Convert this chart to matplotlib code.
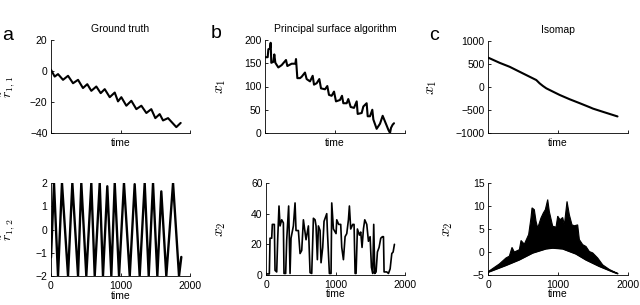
import matplotlib
matplotlib.use("Agg")
import matplotlib.pyplot as plt

plt.rcParams['font.family'] = ['Liberation Sans', 'DejaVu Sans']
plt.rcParams['mathtext.fontset'] = 'cm'

# ---- Panel a: ground truth ----
r11_t = [0, 53, 101, 173, 245, 317, 389, 460, 522, 580, 652, 715, 773, 845, 917, 964,
         1012, 1084, 1156, 1228, 1300, 1372, 1443, 1501, 1564, 1612, 1684, 1803, 1866]
r11_v = [0.8, -3.6, -2.0, -5.7, -3.1, -7.9, -5.7, -11.0, -8.5, -12.8, -10.0, -14.3, -11.7,
         -16.9, -13.9, -19.6, -16.9, -22.4, -19.2, -24.6, -22.4, -27.1, -24.6, -30.4,
         -27.8, -31.9, -30.4, -36.2, -33.5]

r12_t = [0, 43, 101, 158, 245, 307, 389, 436, 508, 580, 629, 701, 748, 810, 868, 917,
         979, 1050, 1133, 1204, 1276, 1348, 1406, 1468, 1530, 1587, 1659, 1756, 1842, 1875]
r12_v = [-1.2, 2.0, -2.0, 2.0, -2.0, 2.0, -2.0, 2.0, -2.0, 2.0, -2.0, 2.0, -2.0, 1.86,
         -2.0, 2.0, -2.0, 2.0, -2.0, 1.95, -2.0, 2.0, -2.0, 2.0, -2.0, 1.64, -2.0, 2.0,
         -2.0, -1.18]

# ---- Panel b: principal surface algorithm ----
psa_x1_t = [0, 38, 48, 71, 81, 90, 119, 133, 148, 190, 238, 300, 319, 381, 433, 443, 462,
            500, 524, 571, 595, 643, 681, 700, 738, 776, 800, 857, 890, 914, 952, 986,
            1014, 1071, 1100, 1119, 1167, 1190, 1224, 1271, 1310, 1324, 1381, 1405, 1452,
            1467, 1500, 1533, 1548, 1595, 1643, 1681, 1700, 1738, 1762, 1786, 1800, 1824, 1843]
psa_x1_v = [163, 163, 180, 182, 194, 151, 153, 169, 151, 141, 146, 157, 144, 149, 149, 159,
            118, 118, 121, 130, 116, 111, 123, 104, 107, 116, 96, 94, 101, 82, 80, 89, 68,
            71, 80, 64, 64, 73, 56, 54, 68, 41, 43, 57, 64, 36, 36, 50, 29, 9, 20, 37, 30,
            16, 7, 0, 11, 18, 21]

psa_x2_t = [0, 48, 58, 82, 91, 120, 130, 154, 168, 187, 202, 226, 250, 259, 283, 298, 326,
            346, 360, 394, 418, 432, 466, 490, 514, 538, 576, 610, 634, 658, 682, 706, 720,
            739, 754, 778, 792, 816, 835, 874, 883, 912, 936, 946, 970, 1008, 1018, 1046,
            1075, 1090, 1114, 1138, 1162, 1186, 1200, 1219, 1248, 1267, 1282, 1296, 1315,
            1344, 1363, 1382, 1402, 1421, 1450, 1474, 1498, 1517, 1536, 1550, 1565, 1584,
            1603, 1627, 1651, 1675, 1690, 1699, 1738, 1762, 1786, 1810, 1829, 1848]
psa_x2_v = [0.7, 0.7, 24, 24, 33, 33, 3, 2, 23, 45, 32, 36, 34, 1, 1, 23, 45, 1, 24, 32,
            47, 29, 29, 14, 16, 36, 23, 32, 1.5, 1, 37, 36, 32, 10, 32, 29, 8, 18, 35, 40,
            29, 1, 1, 47, 30, 27, 36, 33, 33, 18, 10, 25, 27, 36, 45, 30, 33, 33, 1, 1, 30,
            26, 28, 18, 30, 36, 33, 22, 25, 5, 1, 33, 1, 2, 15, 18, 24, 25, 25, 2, 2, 1, 4,
            14, 15, 20]

# ---- Panel c: Isomap ----
iso_x1_t = [0, 167, 310, 452, 595, 690, 738, 785, 833, 928, 1024, 1166, 1310, 1452, 1500,
            1643, 1850]
iso_x1_v = [640, 525, 439, 331, 223, 151, 79, 22, -29, -101, -173, -266, -352, -439, -470,
            -540, -640]

iso_x2_lo_t = [0, 257, 447, 639, 829, 925, 1067, 1257, 1400, 1590, 1782, 1853]
iso_x2_lo_v = [-4.4, -2.9, -1.7, -0.2, 0.7, 0.87, 0.7, -0.4, -1.7, -3.1, -4.3, -4.7]
iso_x2_hi_t = [0, 162, 257, 305, 343, 376, 448, 472, 519, 581, 614, 629, 662, 686, 710,
               757, 791, 819, 853, 876, 924, 972, 996, 1029, 1067, 1091, 1129, 1162, 1200,
               1234, 1281, 1305, 1353, 1400, 1448, 1496, 1567, 1639, 1734, 1853]
iso_x2_hi_v = [-4.3, -2.6, -1.3, -0.9, 1.0, 0.0, 0.5, 2.5, 1.7, 3.8, 7.4, 9.6, 9.2, 6.7,
               5.2, 7.4, 8.5, 9.2, 11.4, 8.8, 5.6, 5.4, 7.8, 7.0, 7.5, 5.9, 11.0, 8.1, 5.9,
               5.7, 5.9, 2.7, 1.6, 1.2, 0.1, -0.2, -1.3, -2.8, -3.8, -4.7]

W, H = 640, 305
fig = plt.figure(figsize=(W / 100, H / 100), dpi=100)

def px_axes(x0, y0, x1, y1):
    return fig.add_axes([x0 / W, 1 - y1 / H, (x1 - x0) / W, (y1 - y0) / H])

FS = 7.5
LW = 1.5

def style(ax, bottom_row):
    for s in ['top', 'right']:
        ax.spines[s].set_visible(False)
    for s in ['left', 'bottom']:
        ax.spines[s].set_linewidth(0.6)
    ax.tick_params(direction='in', length=2.5, width=0.6, labelsize=FS, pad=2.5)
    ax.tick_params(axis='x', pad=3.5)
    ax.set_xlim(0, 2000)
    ax.set_xticks([0, 1000, 2000])
    ax.set_xlabel('time', fontsize=FS)
    if not bottom_row:
        ax.set_xticklabels([])
        ax.xaxis.set_label_coords(0.5, -0.108)
    else:
        ax.xaxis.set_label_coords(0.5, -0.21)
    ax.xaxis.label.set_va('center')

def plot_line(ax, t, v, lw=LW):
    ax.plot(t, v, color='black', lw=lw, solid_joinstyle='round', solid_capstyle='round')

# Panel a
a1 = px_axes(51, 40, 190, 133)
plot_line(a1, r11_t, r11_v)
style(a1, False)
a1.set_ylim(-40, 20)
a1.set_yticks([-40, -20, 0, 20])
a1.set_title('Ground truth', fontsize=FS, pad=6)
a1.set_ylabel(r'$\tilde{r}_{1,1}$', fontsize=10)
a1.yaxis.set_label_coords(-0.235, 0.5)

a2 = px_axes(51, 183, 190, 276)
plot_line(a2, r12_t, r12_v, lw=1.7)
style(a2, True)
a2.set_ylim(-2, 2)
a2.set_yticks([-2, -1, 0, 1, 2])
a2.set_ylabel(r'$\tilde{r}_{1,2}$', fontsize=10)
a2.yaxis.set_label_coords(-0.235, 0.5)

# Panel b
b1 = px_axes(265, 40, 405, 133)
plot_line(b1, psa_x1_t, psa_x1_v)
style(b1, False)
b1.set_ylim(0, 200)
b1.set_yticks([0, 50, 100, 150, 200])
b1.set_title('Principal surface algorithm', fontsize=FS, pad=6)
b1.set_ylabel(r'$x_1$', fontsize=11)
b1.yaxis.set_label_coords(-0.265, 0.5)

b2 = px_axes(266, 183, 405, 275)
plot_line(b2, psa_x2_t, psa_x2_v, lw=1.2)
style(b2, True)
b2.set_ylim(0, 60)
b2.set_yticks([0, 20, 40, 60])
b2.set_ylabel(r'$x_2$', fontsize=11)
b2.yaxis.set_label_coords(-0.27, 0.5)

# Panel c
c1 = px_axes(488, 41, 628, 133)
plot_line(c1, iso_x1_t, iso_x1_v)
style(c1, False)
c1.set_ylim(-1000, 1000)
c1.set_yticks([-1000, -500, 0, 500, 1000])
c1.set_title('Isomap', fontsize=FS, pad=6)
c1.set_ylabel(r'$x_1$', fontsize=11)
c1.yaxis.set_label_coords(-0.35, 0.5)

c2 = px_axes(488, 183, 628, 275)
c2.fill(list(iso_x2_hi_t) + list(iso_x2_lo_t[::-1]),
        list(iso_x2_hi_v) + list(iso_x2_lo_v[::-1]),
        facecolor='black', edgecolor='black', lw=0.8)
plot_line(c2, iso_x2_lo_t, iso_x2_lo_v, lw=1.2)
style(c2, True)
c2.set_ylim(-5, 15)
c2.set_yticks([-5, 0, 5, 10, 15])
c2.set_ylabel(r'$x_2$', fontsize=11)
c2.yaxis.set_label_coords(-0.236, 0.5)

# panel letters
fig.text(8 / W, 1 - 35 / H, 'a', fontsize=14, ha='center', va='center')
fig.text(216 / W, 1 - 33 / H, 'b', fontsize=14, ha='center', va='center')
fig.text(434 / W, 1 - 35 / H, 'c', fontsize=14, ha='center', va='center')

fig.savefig('out.png', dpi=100)
